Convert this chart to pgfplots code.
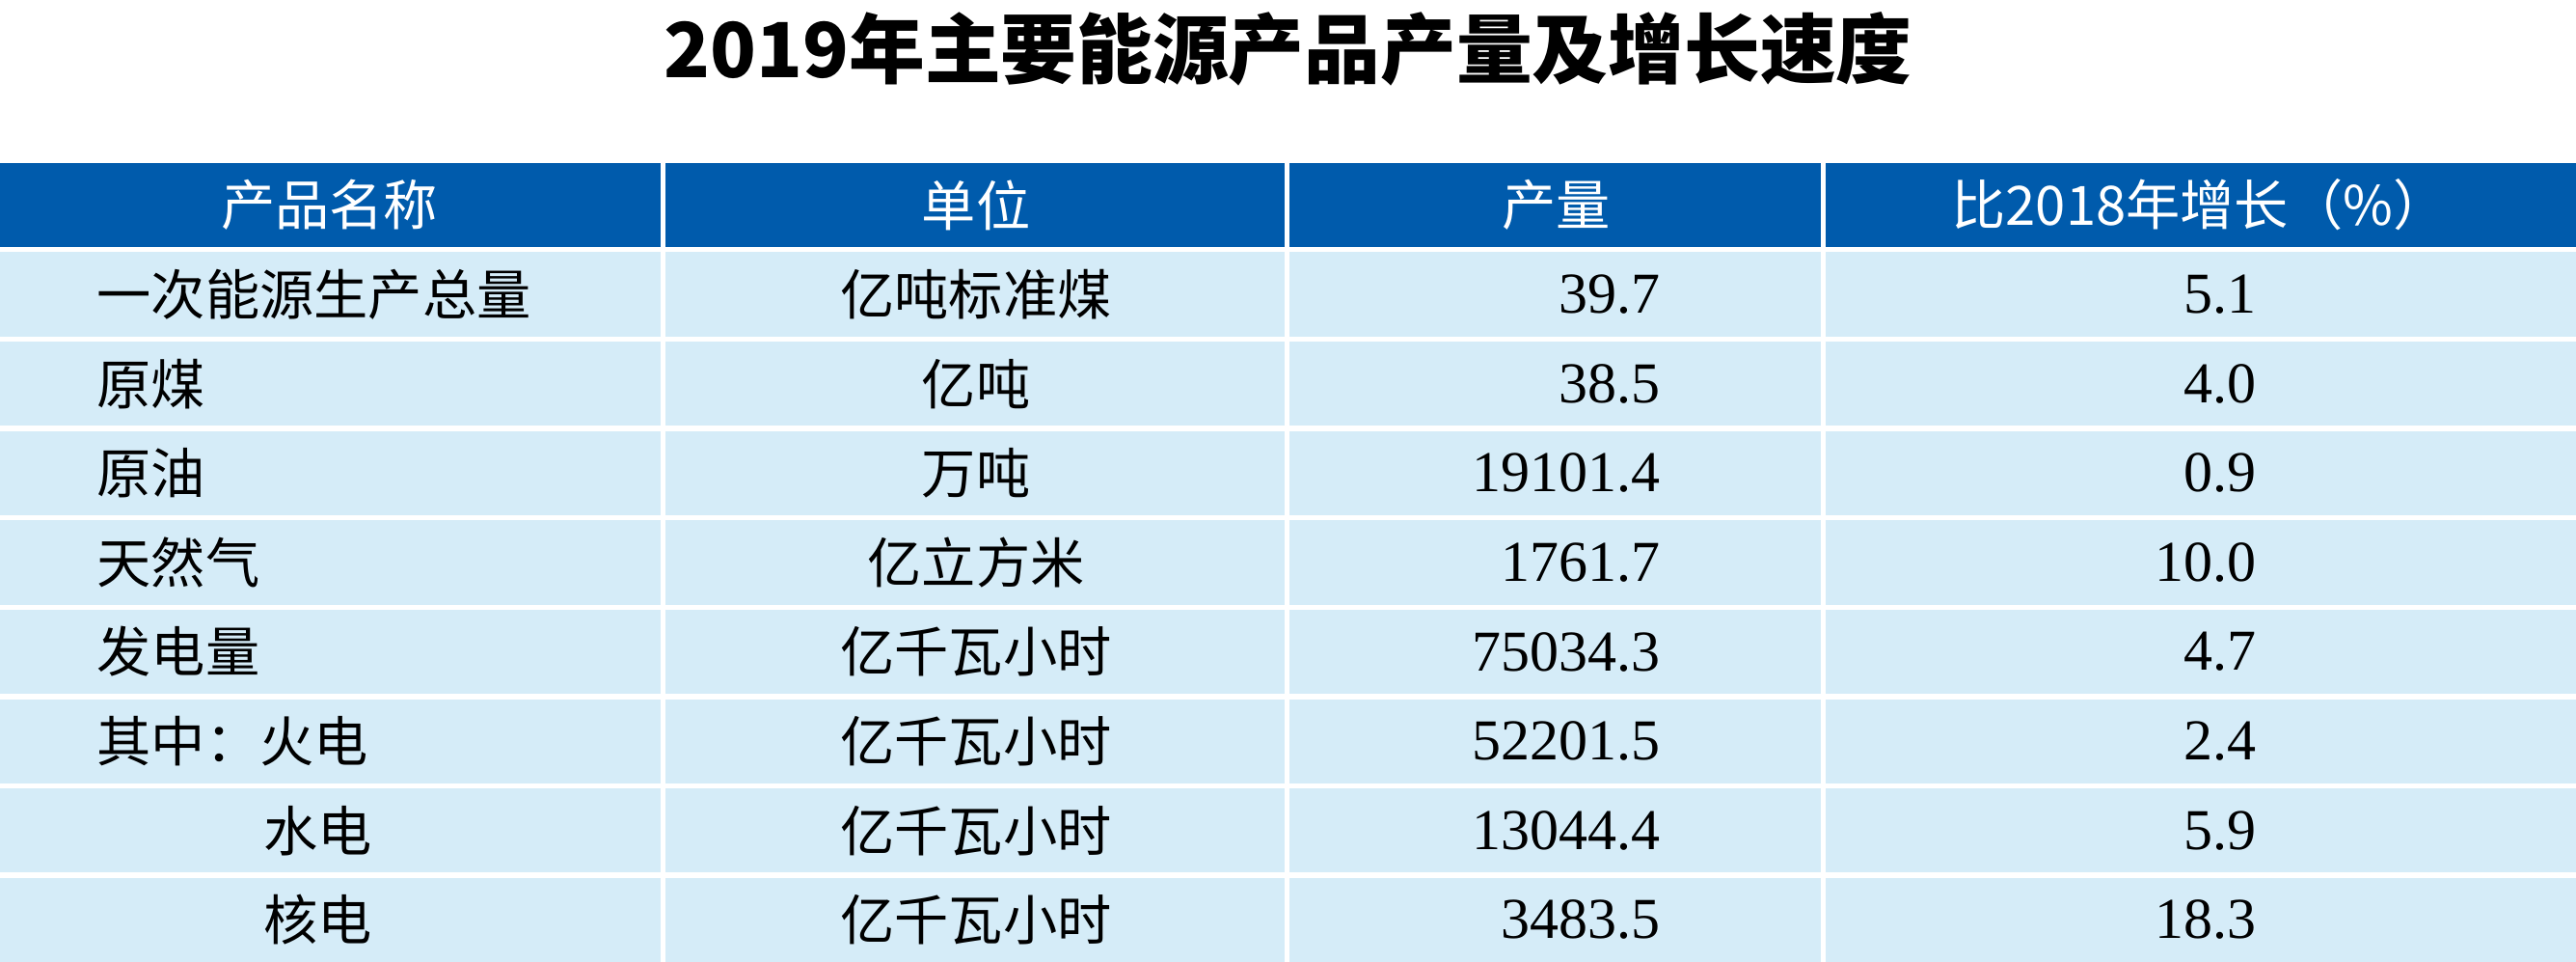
\documentclass[border=0pt]{standalone}
\usepackage{pgfplots}
\pgfplotsset{compat=1.18}
\usepackage{fontspec}
\setmainfont{Liberation Serif}
\newfontfamily\cjk{Noto Sans CJK SC}
\definecolor{hdr}{HTML}{005BAC}
\definecolor{rowc}{HTML}{D5ECF8}
\newcommand\cf{\cjk\fontsize{15}{18}\selectfont}
\begin{document}
\begin{tikzpicture}
\begin{axis}[width=26.71cm,height=10.93cm,scale only axis,xmin=0,xmax=1568,ymin=0,ymax=642,y dir=reverse,hide axis,clip=false]
\fill[hdr] (axis cs:55,135) rectangle (axis cs:432,183);
\fill[hdr] (axis cs:435,135) rectangle (axis cs:788,183);
\fill[hdr] (axis cs:791,135) rectangle (axis cs:1094,183);
\fill[hdr] (axis cs:1097,135) rectangle (axis cs:1525,183);
\pgfplotsinvokeforeach{0,...,7}{
 \fill[rowc] (axis cs:55,{186+51*#1}) rectangle (axis cs:432,{234+51*#1});
 \fill[rowc] (axis cs:435,{186+51*#1}) rectangle (axis cs:788,{234+51*#1});
 \fill[rowc] (axis cs:791,{186+51*#1}) rectangle (axis cs:1094,{234+51*#1});
 \fill[rowc] (axis cs:1097,{186+51*#1}) rectangle (axis cs:1525,{234+51*#1});
}
\node[font=\cjk\bfseries\fontsize{21}{24}\selectfont] at (axis cs:790,70) {2019年主要能源产品产量及增长速度};
\node[font=\cf,text=white] at (axis cs:243,159) {产品名称};
\node[font=\cf,text=white] at (axis cs:612,159) {单位};
\node[font=\cf,text=white] at (axis cs:943,159) {产量};
\node[font=\cf,text=white] at (axis cs:1310,159) {比2018年增长（\%）};
\node[font=\cf,anchor=west,inner sep=0] at (axis cs:110,210) {一次能源生产总量};
\node[font=\cf,anchor=west,inner sep=0] at (axis cs:110,261) {原煤};
\node[font=\cf,anchor=west,inner sep=0] at (axis cs:110,312) {原油};
\node[font=\cf,anchor=west,inner sep=0] at (axis cs:110,363) {天然气};
\node[font=\cf,anchor=west,inner sep=0] at (axis cs:110,414) {发电量};
\node[font=\cf,anchor=west,inner sep=0] at (axis cs:110,465) {其中：火电};
\node[font=\cf,anchor=west,inner sep=0] at (axis cs:205,516) {水电};
\node[font=\cf,anchor=west,inner sep=0] at (axis cs:205,567) {核电};
\node[font=\cf] at (axis cs:612,210) {亿吨标准煤};
\node[font=\cf] at (axis cs:612,261) {亿吨};
\node[font=\cf] at (axis cs:612,312) {万吨};
\node[font=\cf] at (axis cs:612,363) {亿立方米};
\node[font=\cf] at (axis cs:612,414) {亿千瓦小时};
\node[font=\cf] at (axis cs:612,465) {亿千瓦小时};
\node[font=\cf] at (axis cs:612,516) {亿千瓦小时};
\node[font=\cf] at (axis cs:612,567) {亿千瓦小时};
\addplot[draw=none,mark=none,nodes near coords,point meta=explicit symbolic,
 every node near coord/.append style={anchor=east,inner sep=0,font=\fontsize{16}{18}\selectfont}]
 table[x=x,y=y,meta=v] {
x y v
1003 210 39.7
1003 261 38.5
1003 312 19101.4
1003 363 1761.7
1003 414 75034.3
1003 465 52201.5
1003 516 13044.4
1003 567 3483.5
};
\addplot[draw=none,mark=none,nodes near coords,point meta=explicit symbolic,
 every node near coord/.append style={anchor=east,inner sep=0,font=\fontsize{16}{18}\selectfont}]
 table[x=x,y=y,meta=v] {
x y v
1343 210 5.1
1343 261 4.0
1343 312 0.9
1343 363 10.0
1343 414 4.7
1343 465 2.4
1343 516 5.9
1343 567 18.3
};
\end{axis}
\end{tikzpicture}
\end{document}
